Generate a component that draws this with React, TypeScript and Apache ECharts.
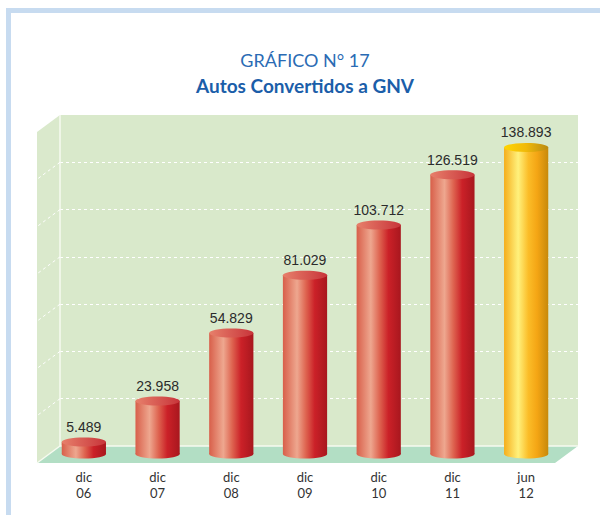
import React, { useEffect, useRef } from "react";
import * as echarts from "echarts";

const categories = ["dic\n06", "dic\n07", "dic\n08", "dic\n09", "dic\n10", "dic\n11", "jun\n12"];
const values = [5489, 23958, 54829, 81029, 103712, 126519, 138893];
const highlighted = [false, false, false, false, false, false, true];
const yMax = 140000;
const yInterval = 20000;
const gridTicks = [20000, 40000, 60000, 80000, 100000, 120000];
const titleText = "GRÁFICO N° 17";
const subtitleText = "Autos Convertidos a GNV";

const DX = -23;
const DY = 17;

function fmt(n: number): string {
  return String(n).replace(/\B(?=(\d{3})+(?!\d))/g, ".");
}

const redBody = () =>
  new echarts.graphic.LinearGradient(0, 0, 1, 0, [
    { offset: 0, color: "#d85f4a" },
    { offset: 0.32, color: "#eea78f" },
    { offset: 0.52, color: "#de6450" },
    { offset: 0.72, color: "#cb2128" },
    { offset: 1, color: "#a8171e" },
  ]);
const redTop = () =>
  new echarts.graphic.LinearGradient(0, 0, 1, 0, [
    { offset: 0, color: "#e7806b" },
    { offset: 1, color: "#c8343a" },
  ]);
const goldBody = () =>
  new echarts.graphic.LinearGradient(0, 0, 1, 0, [
    { offset: 0, color: "#f5ae1c" },
    { offset: 0.32, color: "#fff17c" },
    { offset: 0.55, color: "#fbbd28" },
    { offset: 0.75, color: "#f4a514" },
    { offset: 1, color: "#c7890b" },
  ]);
const goldTop = () =>
  new echarts.graphic.LinearGradient(0, 0, 1, 0, [
    { offset: 0, color: "#ffd600" },
    { offset: 0.5, color: "#f0b90a" },
    { offset: 1, color: "#b98a12" },
  ]);

export default function App() {
  const ref = useRef<HTMLDivElement>(null);

  useEffect(() => {
    if (!ref.current) return;
    const chart = echarts.init(ref.current, undefined, { renderer: "svg" });

    const option: any = {
      animation: false,
      backgroundColor: "#ffffff",
      graphic: [
        {
          type: "rect",
          shape: { x: 8.5, y: 10.5, width: 640, height: 530 },
          style: { fill: "none", stroke: "#c7dbf0", lineWidth: 5 },
          silent: true,
        },
        {
          type: "text",
          x: 305,
          y: 60,
          style: {
            text: titleText,
            fill: "#2a6bb4",
            fontSize: 18,
            fontFamily: "Lato",
            align: "center",
            verticalAlign: "middle",
          },
        },
        {
          type: "text",
          x: 305,
          y: 85,
          style: {
            text: subtitleText,
            fill: "#1b5ea9",
            fontSize: 19,
            fontWeight: "bold",
            fontFamily: "Lato",
            align: "center",
            verticalAlign: "middle",
          },
        },
      ],
      grid: [
        {
          left: 60,
          right: 22,
          top: 115,
          bottom: 69,
          show: true,
          backgroundColor: "#d9e9cb",
          borderWidth: 0,
        },
        { left: 47, right: 37, top: 145, bottom: 61 },
      ],
      xAxis: [
        { type: "category", data: categories, gridIndex: 0, show: false },
        {
          type: "category",
          data: categories,
          gridIndex: 1,
          axisLine: { show: false },
          axisTick: { show: false },
          splitLine: { show: false },
          axisLabel: {
            margin: 15,
            fontSize: 13,
            lineHeight: 16,
            color: "#333333",
            fontFamily: "Lato",
          },
        },
      ],
      yAxis: [
        {
          type: "value",
          gridIndex: 0,
          min: 0,
          max: yMax,
          interval: yInterval,
          axisLabel: { show: false },
          axisLine: { show: false },
          axisTick: { show: false },
          splitLine: {
            show: true,
            showMinLine: false,
            showMaxLine: false,
            lineStyle: { color: "#ffffff", width: 1, type: [3, 3] },
          },
        },
        {
          type: "value",
          gridIndex: 1,
          min: 0,
          max: yMax,
          interval: yInterval,
          show: false,
          splitLine: { show: false },
        },
      ],
      series: [
        {
          type: "custom",
          name: "room",
          xAxisIndex: 0,
          yAxisIndex: 0,
          data: [[0, 0]],
          encode: { x: 0, y: 1 },
          silent: true,
          z: 1,
          renderItem: (params: any) => {
            const cs = params.coordSys;
            const l = cs.x;
            const r = cs.x + cs.width;
            const t = cs.y;
            const b = cs.y + cs.height;
            return {
              type: "group",
              children: [
                {
                  type: "polygon",
                  shape: { points: [[l, t], [l, b], [l + DX, b + DY], [l + DX, t + DY]] },
                  style: { fill: "#dae9cc" },
                },
                {
                  type: "polygon",
                  shape: { points: [[l, b], [r, b], [r + DX, b + DY], [l + DX, b + DY]] },
                  style: { fill: "#b2dec4" },
                },
                {
                  type: "line",
                  shape: { x1: l, y1: t, x2: l, y2: b },
                  style: { stroke: "#f6faf0", lineWidth: 1.5 },
                },
                {
                  type: "line",
                  shape: { x1: l, y1: b, x2: r, y2: b },
                  style: { stroke: "#f6faf0", lineWidth: 1.5 },
                },
                {
                  type: "line",
                  shape: { x1: l, y1: b, x2: l + DX, y2: b + DY },
                  style: { stroke: "#f6faf0", lineWidth: 1.5 },
                },
              ],
            };
          },
        },
        {
          type: "custom",
          name: "sideGrid",
          xAxisIndex: 0,
          yAxisIndex: 0,
          data: gridTicks.map((v) => [0, v]),
          encode: { x: 0, y: 1 },
          silent: true,
          z: 2,
          renderItem: (params: any, api: any) => {
            const cs = params.coordSys;
            const y = api.coord([0, api.value(1)])[1];
            const l = cs.x;
            return {
              type: "line",
              shape: { x1: l, y1: y, x2: l + DX, y2: y + DY },
              style: { stroke: "#ffffff", lineWidth: 1, lineDash: [3, 3] },
            };
          },
        },
        {
          type: "custom",
          name: "Autos",
          xAxisIndex: 1,
          yAxisIndex: 1,
          data: values.map((v, i) => [i, v]),
          encode: { x: 0, y: 1 },
          z: 5,
          renderItem: (params: any, api: any) => {
            const i = api.value(0);
            const v = api.value(1);
            const top = api.coord([i, v]);
            const base = api.coord([i, 0]);
            const w = api.size([1, 0])[0] * 0.6;
            const rx = w / 2;
            const ry = 4.5;
            const cx = top[0];
            const gold = highlighted[params.dataIndex];
            return {
              type: "group",
              children: [
                {
                  type: "ellipse",
                  shape: { cx, cy: base[1], rx, ry },
                  style: { fill: gold ? goldBody() : redBody() },
                },
                {
                  type: "rect",
                  shape: { x: cx - rx, y: top[1], width: w, height: base[1] - top[1] },
                  style: { fill: gold ? goldBody() : redBody() },
                },
                {
                  type: "ellipse",
                  shape: { cx, cy: top[1], rx, ry },
                  style: { fill: gold ? goldTop() : redTop() },
                },
                {
                  type: "text",
                  style: {
                    text: fmt(v),
                    x: cx,
                    y: top[1] - 15,
                    fill: "#2b2b2b",
                    fontSize: 14,
                    fontFamily: "Liberation Sans",
                    align: "center",
                    verticalAlign: "middle",
                  },
                },
              ],
            };
          },
        },
      ],
    };

    chart.setOption(option);
    return () => chart.dispose();
  }, []);

  return (
    <div
      ref={ref}
      style={{ position: "absolute", left: 0, top: 0, width: 600, height: 515, background: "#fff" }}
    />
  );
}
